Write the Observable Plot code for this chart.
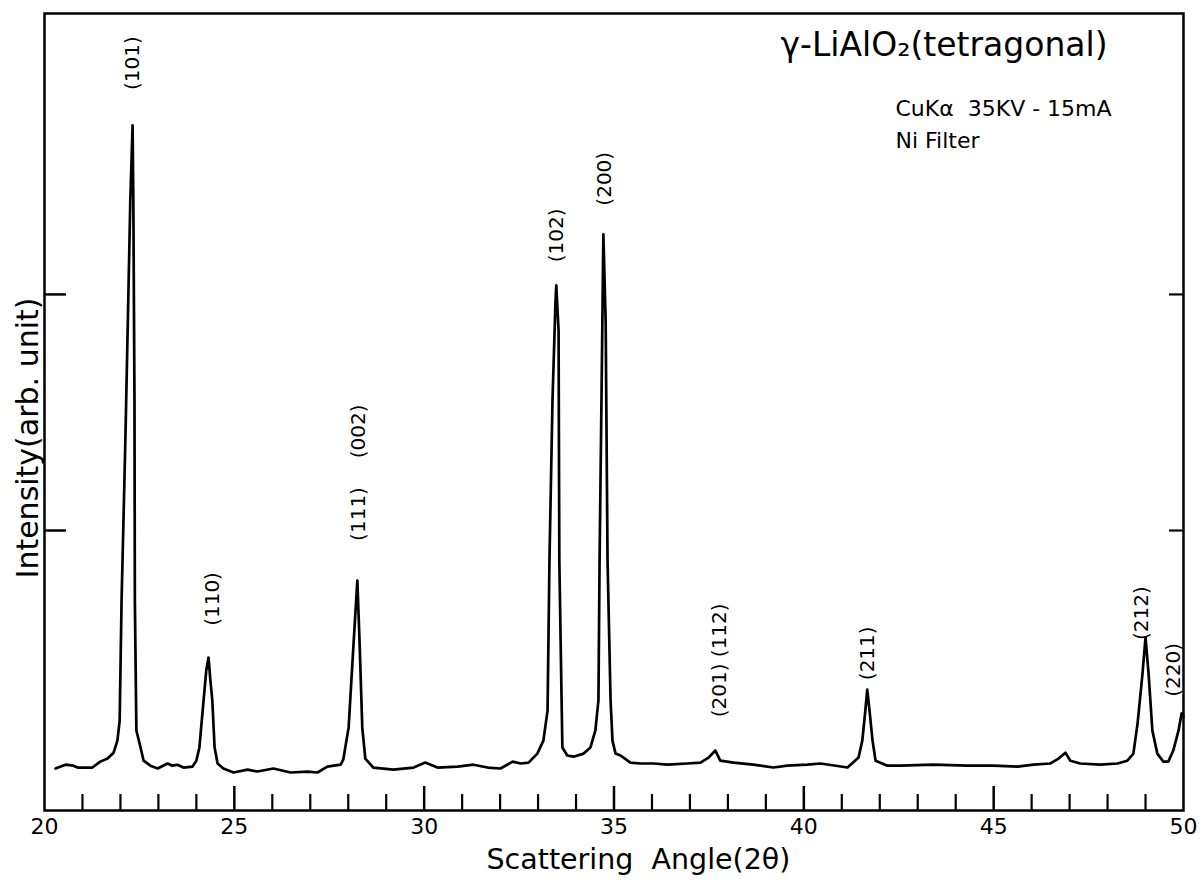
<!DOCTYPE html>
<html>
<head>
<meta charset="utf-8">
<script src="https://cdn.jsdelivr.net/npm/d3@7"></script>
<script src="https://cdn.jsdelivr.net/npm/@observablehq/plot@0.6"></script>
<style>
  html, body { margin: 0; padding: 0; background: #fff; }
  svg { display: block; }
</style>
</head>
<body>
<div id="chart"></div>
<script>
// ---- Data ----
const angle = [
  20.29, 20.55, 20.76, 20.87, 21.26, 21.47, 21.66, 21.82, 21.92, 21.98,
  22.03, 22.13, 22.21, 22.26, 22.32, 22.34, 22.37, 22.38, 22.42, 22.53,
  22.61, 22.79, 22.98, 23.24, 23.37, 23.50, 23.66, 23.90, 24.00, 24.08,
  24.19, 24.26, 24.32, 24.37, 24.42, 24.48, 24.56, 24.71, 24.98, 25.35,
  25.61, 26.03, 26.48, 26.93, 27.19, 27.45, 27.80, 27.87, 28.01, 28.14,
  28.24, 28.30, 28.37, 28.45, 28.66, 29.19, 29.72, 30.03, 30.35, 30.88,
  31.30, 31.67, 32.01, 32.33, 32.54, 32.75, 32.98, 33.14, 33.25, 33.30,
  33.38, 33.46, 33.48, 33.54, 33.56, 33.62, 33.64, 33.77, 33.93, 34.20,
  34.38, 34.51, 34.59, 34.62, 34.67, 34.72, 34.78, 34.83, 34.91, 34.96,
  35.04, 35.17, 35.25, 35.43, 35.70, 36.04, 36.41, 36.93, 37.28, 37.49,
  37.67, 37.80, 38.15, 38.67, 39.20, 39.57, 40.09, 40.44, 41.15, 41.44,
  41.54, 41.62, 41.67, 41.73, 41.81, 41.89, 42.20, 42.54, 43.41, 44.31,
  44.99, 45.63, 46.05, 46.49, 46.71, 46.89, 47.02, 47.28, 47.81, 48.26,
  48.52, 48.68, 48.79, 48.92, 49.00, 49.08, 49.18, 49.31, 49.47, 49.60,
  49.73, 49.87, 49.95, 50.00
];
const intensity = [
  -0.8, 0.8, 0.4, -0.4, -0.4, 2.1, 3.4, 5.9, 11.0, 19.5,
  70.3, 138.1, 200.4, 239.8, 271.6, 239.8, 155.1, 70.3, 15.3, 8.1,
  2.5, 0.4, -0.8, 1.3, 0.4, 0.8, -0.4, 0.0, 2.5, 8.1,
  28.0, 40.7, 46.2, 36.4, 28.0, 8.1, 1.3, -0.8, -2.5, -1.3,
  -2.1, -0.8, -2.5, -2.1, -2.5, 0.0, 0.8, 3.0, 16.5, 52.1,
  78.8, 52.1, 16.5, 3.4, -0.4, -1.3, -0.4, 1.7, -0.4, 0.0,
  0.8, -0.4, -0.8, 2.1, 1.3, 1.7, 5.5, 11.0, 23.7, 87.3,
  155.1, 197.5, 203.8, 184.7, 87.3, 28.0, 8.1, 4.7, 4.2, 5.5,
  8.1, 15.3, 28.0, 87.3, 155.1, 225.4, 189.0, 87.3, 28.0, 11.0,
  5.5, 4.7, 3.8, 1.7, 1.3, 1.3, 0.8, 1.3, 1.7, 3.8,
  6.8, 2.5, 1.7, 0.8, -0.4, 0.4, 0.8, 1.3, -0.4, 3.8,
  11.0, 23.7, 32.6, 23.7, 11.0, 2.5, 0.4, 0.4, 0.8, 0.4,
  0.4, 0.0, 0.8, 1.3, 3.4, 5.9, 2.5, 1.3, 0.8, 1.3,
  2.5, 5.5, 18.2, 39.4, 54.7, 39.4, 15.3, 5.5, 2.1, 2.1,
  6.8, 15.3, 22.5, 21.2
];

const peakLabels      = ["(101)", "(110)", "(111)", "(002)", "(102)", "(200)", "(201) (112)", "(211)", "(212)", "(220)"];
const peakLabelAngle  = [22.32, 24.42, 28.27, 28.27, 33.48, 34.75, 37.78, 41.67, 48.89, 49.73];
const peakLabelHeight = [298, 71, 107, 142, 225, 249, 45, 48, 65, 41];

const xTickLabels = [20, 25, 30, 35, 40, 45, 50];
const xMajorTicks = [25, 30, 35, 40, 45];
const xMinorTicks = [21, 22, 23, 24, 26, 27, 28, 29, 31, 32, 33, 34, 36, 37, 38, 39, 41, 42, 43, 44, 46, 47, 48, 49];
const yTicks = [100, 200];

const titleText = "γ-LiAlO₂(tetragonal)";
const conditionLine1 = "CuKα  35KV - 15mA";
const conditionLine2 = "Ni Filter";
const xTitle = "Scattering  Angle(2θ)";
const yTitle = "Intensity(arb. unit)";

// ---- Layout ----
const W = 1204, H = 880;
const mL = 44, mR = 21, mT = 13, mB = 70;
const innerW = W - mL - mR;
const innerH = H - mT - mB;
const font = "DejaVu Sans";

const curve = angle.map((a, i) => ({angle: a, intensity: intensity[i]}));
const peaks = peakLabels.map((t, i) => ({label: t, angle: peakLabelAngle[i], h: peakLabelHeight[i]}));

const chart = Plot.plot({
  width: W,
  height: H,
  marginLeft: mL,
  marginRight: mR,
  marginTop: mT,
  marginBottom: mB,
  style: {fontFamily: font, background: "white", color: "black", overflow: "visible"},
  x: {domain: [20, 50], axis: null},
  y: {domain: [-18.6, 319], axis: null},
  marks: [
    Plot.axisX(xTickLabels, {tickSize: 0, tickPadding: 8, fontSize: 22, label: null}),
    Plot.tickX(xMajorTicks, {x: d => d, insetTop: innerH - 24, strokeWidth: 2.5}),
    Plot.tickX(xMinorTicks, {x: d => d, insetTop: innerH - 16, strokeWidth: 2.2}),
    Plot.tickY(yTicks, {y: d => d, insetRight: innerW - 22, strokeWidth: 2.5}),
    Plot.tickY(yTicks, {y: d => d, insetLeft: innerW - 14, strokeWidth: 2.2}),
    Plot.frame({stroke: "black", strokeWidth: 2.5}),
    Plot.line(curve, {x: "angle", y: "intensity", stroke: "black", strokeWidth: 2.7, strokeLinejoin: "round"}),
    Plot.text(peaks, {x: "angle", y: "h", text: "label", rotate: -90, fontSize: 20, fill: "black"}),
    Plot.text([titleText], {frameAnchor: "top-left", dx: 736, dy: 32, textAnchor: "start", lineAnchor: "middle",
      fontSize: 33, fill: "black"}),
    Plot.text([conditionLine1], {frameAnchor: "top-left", dx: 851, dy: 95, textAnchor: "start", lineAnchor: "middle",
      fontSize: 22, fill: "black"}),
    Plot.text([conditionLine2], {frameAnchor: "top-left", dx: 851, dy: 127, textAnchor: "start", lineAnchor: "middle",
      fontSize: 22, fill: "black"}),
    Plot.text([xTitle], {frameAnchor: "bottom-left", dx: 442, dy: 49, textAnchor: "start", lineAnchor: "middle",
      fontSize: 28.5, fill: "black"}),
    Plot.text([yTitle], {frameAnchor: "left", dx: -16, dy: 26, rotate: -90, textAnchor: "middle", lineAnchor: "middle",
      fontSize: 30, fill: "black"})
  ]
});
document.getElementById("chart").appendChild(chart);
</script>
</body>
</html>
